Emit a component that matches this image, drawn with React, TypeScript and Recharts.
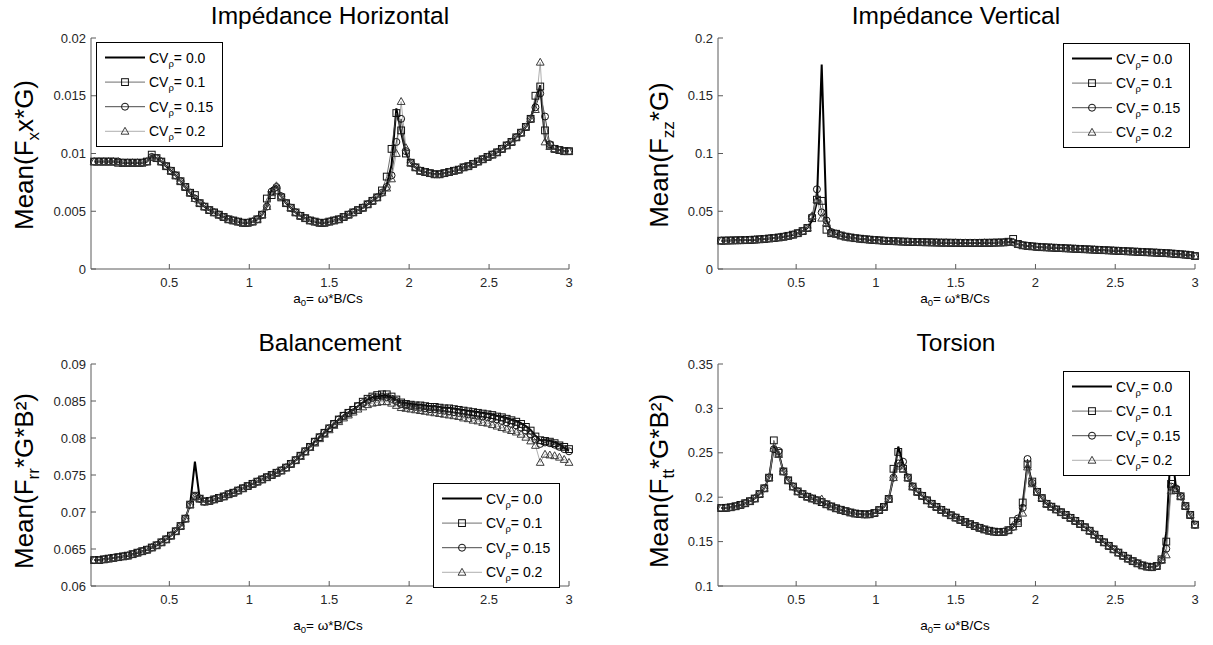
import React from 'react';
import { LineChart, Line, XAxis, YAxis, Legend } from 'recharts';

const FONT = '"Liberation Sans", Arial, Helvetica, sans-serif';
const AXIS_COLOR = '#5a5a5a';
const TEXT_COLOR = '#262626';

// a0 = omega*B/Cs
const A0 = [
  0.03, 0.06, 0.09, 0.12, 0.15, 0.18, 0.21, 0.24, 0.27, 0.3,
  0.33, 0.36, 0.39, 0.42, 0.45, 0.48, 0.51, 0.54, 0.57, 0.6,
  0.63, 0.66, 0.69, 0.72, 0.75, 0.78, 0.81, 0.84, 0.87, 0.9,
  0.93, 0.96, 0.99, 1.02, 1.05, 1.08, 1.11, 1.14, 1.17, 1.2,
  1.23, 1.26, 1.29, 1.32, 1.35, 1.38, 1.41, 1.44, 1.47, 1.5,
  1.53, 1.56, 1.59, 1.62, 1.65, 1.68, 1.71, 1.74, 1.77, 1.8,
  1.83, 1.86, 1.89, 1.92, 1.95, 1.98, 2.01, 2.04, 2.07, 2.1,
  2.13, 2.16, 2.19, 2.22, 2.25, 2.28, 2.31, 2.34, 2.37, 2.4,
  2.43, 2.46, 2.49, 2.52, 2.55, 2.58, 2.61, 2.64, 2.67, 2.7,
  2.73, 2.76, 2.79, 2.82, 2.85, 2.88, 2.91, 2.94, 2.97, 3,
];

// Impédance Horizontal
const H_CV00 = [
  0.0093, 0.0093, 0.0093, 0.0093, 0.0093, 0.0093, 0.0092, 0.0092, 0.0092, 0.0092,
  0.0092, 0.0093, 0.0098, 0.0096, 0.0093, 0.0089, 0.0085, 0.0081, 0.0076, 0.0071,
  0.0066, 0.0061, 0.0057, 0.0054, 0.0051, 0.0049, 0.0047, 0.0045, 0.0043, 0.0042,
  0.0041, 0.004, 0.004, 0.0041, 0.0043, 0.0047, 0.0054, 0.007, 0.0072, 0.0063,
  0.0057, 0.0053, 0.0049, 0.0046, 0.0044, 0.0042, 0.0041, 0.004, 0.004, 0.0041,
  0.0042, 0.0043, 0.0045, 0.0047, 0.0049, 0.0051, 0.0053, 0.0056, 0.0059, 0.0062,
  0.0066, 0.0073, 0.009, 0.0139, 0.0118, 0.01, 0.0092, 0.0088, 0.0085, 0.0084,
  0.0083, 0.0082, 0.0082, 0.0083, 0.0084, 0.0085, 0.0086, 0.0088, 0.0089, 0.0091,
  0.0093, 0.0095, 0.0097, 0.0099, 0.0101, 0.0104, 0.0107, 0.011, 0.0114, 0.0118,
  0.0123, 0.013, 0.0145, 0.0159, 0.0112, 0.0106, 0.0104, 0.0103, 0.0102, 0.0102,
];
const H_CV01 = [
  0.0093, 0.0093, 0.0093, 0.0093, 0.0093, 0.0092, 0.0092, 0.0092, 0.0092, 0.0092,
  0.0092, 0.0093, 0.0099, 0.0096, 0.0093, 0.0089, 0.0085, 0.0081, 0.0076, 0.0071,
  0.0066, 0.0064, 0.0057, 0.0054, 0.0051, 0.0049, 0.0047, 0.0045, 0.0043, 0.0042,
  0.0041, 0.004, 0.004, 0.0041, 0.0043, 0.0047, 0.0061, 0.0064, 0.0068, 0.0062,
  0.0057, 0.0053, 0.0049, 0.0046, 0.0044, 0.0042, 0.0041, 0.004, 0.004, 0.0041,
  0.0042, 0.0043, 0.0045, 0.0047, 0.0049, 0.0051, 0.0053, 0.0056, 0.0059, 0.0062,
  0.0068, 0.008, 0.0104, 0.0135, 0.012, 0.01, 0.0092, 0.0088, 0.0085, 0.0084,
  0.0083, 0.0082, 0.0082, 0.0083, 0.0084, 0.0085, 0.0086, 0.0088, 0.0089, 0.0091,
  0.0093, 0.0095, 0.0097, 0.0099, 0.0101, 0.0104, 0.0107, 0.011, 0.0114, 0.0118,
  0.0123, 0.013, 0.015, 0.0158, 0.012, 0.0107, 0.0104, 0.0103, 0.0102, 0.0102,
];
const H_CV015 = [
  0.0093, 0.0093, 0.0093, 0.0093, 0.0093, 0.0093, 0.0092, 0.0092, 0.0092, 0.0092,
  0.0092, 0.0093, 0.0097, 0.0096, 0.0093, 0.0089, 0.0085, 0.0081, 0.0076, 0.0071,
  0.0066, 0.0061, 0.0057, 0.0054, 0.0051, 0.0049, 0.0047, 0.0045, 0.0043, 0.0042,
  0.0041, 0.004, 0.004, 0.0041, 0.0043, 0.0047, 0.0054, 0.0067, 0.0071, 0.0063,
  0.0057, 0.0053, 0.0049, 0.0046, 0.0044, 0.0042, 0.0041, 0.004, 0.004, 0.0041,
  0.0042, 0.0043, 0.0045, 0.0047, 0.0049, 0.0051, 0.0053, 0.0056, 0.0059, 0.0062,
  0.0066, 0.0071, 0.0081, 0.011, 0.013, 0.0102, 0.0092, 0.0088, 0.0085, 0.0084,
  0.0083, 0.0082, 0.0082, 0.0083, 0.0084, 0.0085, 0.0086, 0.0088, 0.0089, 0.0091,
  0.0093, 0.0095, 0.0097, 0.0099, 0.0101, 0.0104, 0.0107, 0.011, 0.0114, 0.0118,
  0.0123, 0.013, 0.014, 0.0152, 0.0132, 0.0108, 0.0104, 0.0103, 0.0102, 0.0102,
];
const H_CV02 = [
  0.0093, 0.0093, 0.0093, 0.0093, 0.0093, 0.0093, 0.0092, 0.0092, 0.0092, 0.0092,
  0.0092, 0.0093, 0.0097, 0.0096, 0.0093, 0.0089, 0.0085, 0.0081, 0.0076, 0.0071,
  0.0066, 0.0061, 0.0057, 0.0054, 0.0051, 0.0049, 0.0047, 0.0045, 0.0043, 0.0042,
  0.0041, 0.004, 0.004, 0.0041, 0.0043, 0.0047, 0.0054, 0.0066, 0.0072, 0.0063,
  0.0057, 0.0053, 0.0049, 0.0046, 0.0044, 0.0042, 0.0041, 0.004, 0.004, 0.0041,
  0.0042, 0.0043, 0.0045, 0.0047, 0.0049, 0.0051, 0.0053, 0.0056, 0.0059, 0.0062,
  0.0066, 0.007, 0.0078, 0.01, 0.0145, 0.0105, 0.0092, 0.0088, 0.0085, 0.0084,
  0.0083, 0.0082, 0.0082, 0.0083, 0.0084, 0.0085, 0.0086, 0.0088, 0.0089, 0.0091,
  0.0093, 0.0095, 0.0097, 0.0099, 0.0101, 0.0104, 0.0107, 0.011, 0.0114, 0.0118,
  0.0123, 0.013, 0.0138, 0.0179, 0.011, 0.0106, 0.0104, 0.0103, 0.0102, 0.0102,
];

// Impédance Vertical
const V_CV00 = [
  0.0245, 0.0246, 0.0247, 0.0248, 0.0249, 0.025, 0.0252, 0.0254, 0.0257, 0.026,
  0.0264, 0.0268, 0.0273, 0.0279, 0.0287, 0.0297, 0.031, 0.0328, 0.0355, 0.042,
  0.058, 0.177, 0.042, 0.033, 0.0305, 0.029, 0.028, 0.0273, 0.0267, 0.0262,
  0.0258, 0.0254, 0.0251, 0.0248, 0.0245, 0.0243, 0.0241, 0.0239, 0.0237, 0.0236,
  0.0234, 0.0233, 0.0232, 0.0231, 0.023, 0.0229, 0.0228, 0.0228, 0.0227, 0.0227,
  0.0226, 0.0226, 0.0226, 0.0226, 0.0226, 0.0227, 0.0227, 0.0228, 0.0229, 0.023,
  0.0234, 0.0232, 0.0215, 0.0205, 0.02, 0.0196, 0.0192, 0.0189, 0.0187, 0.0185,
  0.0183, 0.0181, 0.0179, 0.0177, 0.0175, 0.0173, 0.0171, 0.0169, 0.0167, 0.0165,
  0.0163, 0.0161, 0.0159, 0.0157, 0.0155, 0.0153, 0.0151, 0.0149, 0.0147, 0.0145,
  0.0143, 0.0141, 0.0139, 0.0137, 0.0134, 0.0131, 0.0128, 0.0124, 0.012, 0.0112,
];
const V_CV01 = [
  0.0245, 0.0246, 0.0247, 0.0248, 0.0249, 0.025, 0.0252, 0.0254, 0.0257, 0.026,
  0.0264, 0.0268, 0.0273, 0.0279, 0.0287, 0.0297, 0.031, 0.0328, 0.0355, 0.044,
  0.06, 0.059, 0.034, 0.031, 0.0305, 0.029, 0.028, 0.0273, 0.0267, 0.0262,
  0.0258, 0.0254, 0.0251, 0.0248, 0.0245, 0.0243, 0.0241, 0.0239, 0.0237, 0.0236,
  0.0234, 0.0233, 0.0232, 0.0231, 0.023, 0.0229, 0.0228, 0.0228, 0.0227, 0.0227,
  0.0226, 0.0226, 0.0226, 0.0226, 0.0226, 0.0227, 0.0227, 0.0228, 0.0229, 0.023,
  0.0236, 0.026, 0.0217, 0.0205, 0.02, 0.0196, 0.0192, 0.0189, 0.0187, 0.0185,
  0.0183, 0.0181, 0.0179, 0.0177, 0.0175, 0.0173, 0.0171, 0.0169, 0.0167, 0.0165,
  0.0163, 0.0161, 0.0159, 0.0157, 0.0155, 0.0153, 0.0151, 0.0149, 0.0147, 0.0145,
  0.0143, 0.0141, 0.0139, 0.0137, 0.0134, 0.0131, 0.0128, 0.0124, 0.012, 0.0112,
];
const V_CV015 = [
  0.0245, 0.0246, 0.0247, 0.0248, 0.0249, 0.025, 0.0252, 0.0254, 0.0257, 0.026,
  0.0264, 0.0268, 0.0273, 0.0279, 0.0287, 0.0297, 0.031, 0.0328, 0.0355, 0.045,
  0.069, 0.049, 0.042, 0.032, 0.0305, 0.029, 0.028, 0.0273, 0.0267, 0.0262,
  0.0258, 0.0254, 0.0251, 0.0248, 0.0245, 0.0243, 0.0241, 0.0239, 0.0237, 0.0236,
  0.0234, 0.0233, 0.0232, 0.0231, 0.023, 0.0229, 0.0228, 0.0228, 0.0227, 0.0227,
  0.0226, 0.0226, 0.0226, 0.0226, 0.0226, 0.0227, 0.0227, 0.0228, 0.0229, 0.023,
  0.0233, 0.0231, 0.0214, 0.0205, 0.02, 0.0196, 0.0192, 0.0189, 0.0187, 0.0185,
  0.0183, 0.0181, 0.0179, 0.0177, 0.0175, 0.0173, 0.0171, 0.0169, 0.0167, 0.0165,
  0.0163, 0.0161, 0.0159, 0.0157, 0.0155, 0.0153, 0.0151, 0.0149, 0.0147, 0.0145,
  0.0143, 0.0141, 0.0139, 0.0137, 0.0134, 0.0131, 0.0128, 0.0124, 0.012, 0.0112,
];
const V_CV02 = [
  0.0245, 0.0246, 0.0247, 0.0248, 0.0249, 0.025, 0.0252, 0.0254, 0.0257, 0.026,
  0.0264, 0.0268, 0.0273, 0.0279, 0.0287, 0.0297, 0.031, 0.0328, 0.0355, 0.046,
  0.06, 0.044, 0.04, 0.032, 0.0306, 0.029, 0.028, 0.0273, 0.0267, 0.0262,
  0.0258, 0.0254, 0.0251, 0.0248, 0.0245, 0.0243, 0.0241, 0.0239, 0.0237, 0.0236,
  0.0234, 0.0233, 0.0232, 0.0231, 0.023, 0.0229, 0.0228, 0.0228, 0.0227, 0.0227,
  0.0226, 0.0226, 0.0226, 0.0226, 0.0226, 0.0227, 0.0227, 0.0228, 0.0229, 0.023,
  0.0233, 0.0232, 0.0215, 0.0205, 0.02, 0.0196, 0.0192, 0.0189, 0.0187, 0.0185,
  0.0183, 0.0181, 0.0179, 0.0177, 0.0175, 0.0173, 0.0171, 0.0169, 0.0167, 0.0165,
  0.0163, 0.0161, 0.0159, 0.0157, 0.0155, 0.0153, 0.0151, 0.0149, 0.0147, 0.0145,
  0.0143, 0.0141, 0.0139, 0.0137, 0.0134, 0.0131, 0.0128, 0.0124, 0.012, 0.0112,
];

// Balancement
const B_CV00 = [
  0.0635, 0.0635, 0.0636, 0.0637, 0.0638, 0.0639, 0.064, 0.0641, 0.0643, 0.0645,
  0.0647, 0.0649, 0.0652, 0.0655, 0.0659, 0.0663, 0.0668, 0.0674, 0.0681, 0.0691,
  0.071, 0.0768, 0.0718, 0.0714, 0.0715, 0.0717, 0.0719, 0.0721, 0.0724, 0.0726,
  0.0729, 0.0732, 0.0735, 0.0738, 0.0741, 0.0744, 0.0747, 0.075, 0.0753, 0.0756,
  0.076, 0.0765, 0.077, 0.0776, 0.0782, 0.0788, 0.0795, 0.0801, 0.0807, 0.0813,
  0.0819, 0.0825, 0.083, 0.0834, 0.0838, 0.0843, 0.0848, 0.0852, 0.0855, 0.0856,
  0.0857, 0.0857, 0.0855, 0.0852, 0.0848, 0.0847, 0.0846, 0.0845, 0.0845, 0.0844,
  0.0843, 0.0843, 0.0842, 0.0841, 0.0841, 0.084, 0.0839, 0.0838, 0.0837, 0.0836,
  0.0835, 0.0834, 0.0833, 0.0832, 0.083, 0.0829, 0.0827, 0.0825, 0.0823, 0.082,
  0.0816, 0.0811, 0.0803, 0.0797, 0.0797, 0.0796, 0.0794, 0.0791, 0.0787, 0.0783,
];
const B_CV01 = [
  0.0635, 0.0635, 0.0636, 0.0637, 0.0638, 0.0639, 0.064, 0.0641, 0.0643, 0.0645,
  0.0647, 0.0649, 0.0652, 0.0655, 0.0659, 0.0663, 0.0668, 0.0674, 0.0681, 0.0691,
  0.071, 0.0722, 0.0718, 0.0714, 0.0715, 0.0717, 0.0719, 0.0721, 0.0724, 0.0726,
  0.0729, 0.0732, 0.0735, 0.0738, 0.0741, 0.0744, 0.0747, 0.075, 0.0753, 0.0756,
  0.076, 0.0765, 0.077, 0.0776, 0.0782, 0.0788, 0.0795, 0.0801, 0.0807, 0.0813,
  0.0819, 0.0825, 0.083, 0.0834, 0.0838, 0.0843, 0.0849, 0.0853, 0.0856, 0.0858,
  0.0859, 0.0859, 0.0856, 0.0852, 0.0848, 0.0846, 0.0845, 0.0844, 0.0844, 0.0843,
  0.0842, 0.0842, 0.0841, 0.084, 0.084, 0.0839, 0.0838, 0.0837, 0.0836, 0.0835,
  0.0834, 0.0833, 0.0832, 0.0831, 0.0829, 0.0828, 0.0826, 0.0824, 0.0822, 0.0819,
  0.0815, 0.081, 0.0802, 0.0797, 0.0796, 0.0795, 0.0793, 0.079, 0.0788, 0.0785,
];
const B_CV015 = [
  0.0635, 0.0635, 0.0636, 0.0637, 0.0638, 0.0639, 0.064, 0.0641, 0.0643, 0.0645,
  0.0647, 0.0649, 0.0652, 0.0655, 0.0659, 0.0663, 0.0668, 0.0674, 0.0681, 0.0691,
  0.071, 0.0721, 0.0718, 0.0714, 0.0715, 0.0717, 0.0719, 0.0721, 0.0724, 0.0726,
  0.0729, 0.0732, 0.0735, 0.0738, 0.0741, 0.0744, 0.0747, 0.075, 0.0753, 0.0756,
  0.076, 0.0765, 0.077, 0.0776, 0.0782, 0.0788, 0.0795, 0.0801, 0.0807, 0.0813,
  0.0819, 0.0825, 0.083, 0.0834, 0.0838, 0.0843, 0.0847, 0.0851, 0.0854, 0.0855,
  0.0856, 0.0855, 0.0853, 0.085, 0.0846, 0.0844, 0.0843, 0.0842, 0.0841, 0.084,
  0.0839, 0.0839, 0.0838, 0.0837, 0.0836, 0.0835, 0.0834, 0.0833, 0.0832, 0.0831,
  0.083, 0.0829, 0.0828, 0.0826, 0.0825, 0.0823, 0.0821, 0.0819, 0.0817, 0.0814,
  0.081, 0.0805, 0.0798, 0.0792, 0.0794, 0.0793, 0.0791, 0.0788, 0.0785, 0.0782,
];
const B_CV02 = [
  0.0635, 0.0635, 0.0636, 0.0637, 0.0638, 0.0639, 0.064, 0.0641, 0.0643, 0.0645,
  0.0647, 0.0649, 0.0652, 0.0655, 0.0659, 0.0663, 0.0668, 0.0674, 0.0681, 0.0691,
  0.071, 0.072, 0.0718, 0.0714, 0.0715, 0.0717, 0.0719, 0.0721, 0.0724, 0.0726,
  0.0729, 0.0732, 0.0735, 0.0738, 0.0741, 0.0744, 0.0747, 0.075, 0.0753, 0.0756,
  0.076, 0.0765, 0.077, 0.0775, 0.0781, 0.0787, 0.0793, 0.0799, 0.0805, 0.0811,
  0.0817, 0.0822, 0.0827, 0.0831, 0.0835, 0.0839, 0.0842, 0.0845, 0.0847, 0.0848,
  0.0849, 0.0849, 0.0847, 0.0844, 0.0841, 0.084, 0.0839, 0.0838, 0.0837, 0.0836,
  0.0835, 0.0834, 0.0833, 0.0832, 0.0831, 0.083, 0.0829, 0.0827, 0.0826, 0.0824,
  0.0823, 0.0821, 0.082, 0.0818, 0.0816, 0.0814, 0.0812, 0.081, 0.0808, 0.0805,
  0.0801, 0.0796, 0.079, 0.0767, 0.0778, 0.0777, 0.0776, 0.0774, 0.0771, 0.0767,
];

// Torsion
const T_CV00 = [
  0.1878, 0.188, 0.1887, 0.1898, 0.1913, 0.1932, 0.1955, 0.1985, 0.2035, 0.21,
  0.222, 0.257, 0.249, 0.229, 0.219, 0.212, 0.2065, 0.2035, 0.2005, 0.1985,
  0.1965, 0.1945, 0.192, 0.1896, 0.1875, 0.1858, 0.1843, 0.1828, 0.1816, 0.181,
  0.1806, 0.1808, 0.1822, 0.1855, 0.189, 0.198, 0.222, 0.257, 0.238, 0.222,
  0.212, 0.206, 0.2015, 0.1965, 0.1925, 0.189, 0.1857, 0.1826, 0.1797, 0.177,
  0.1744, 0.172, 0.1697, 0.1675, 0.1655, 0.1637, 0.1622, 0.1612, 0.1607, 0.161,
  0.1628, 0.1665, 0.1745, 0.193, 0.236, 0.215, 0.206, 0.199, 0.1925, 0.1893,
  0.1862, 0.1831, 0.18, 0.1767, 0.1733, 0.1698, 0.1662, 0.1622, 0.1578, 0.153,
  0.1492, 0.1452, 0.1413, 0.1376, 0.134, 0.1308, 0.128, 0.1255, 0.1232, 0.1218,
  0.1212, 0.1225, 0.129, 0.16, 0.26, 0.212, 0.201, 0.19, 0.18, 0.169,
];
const T_CV01 = [
  0.1878, 0.188, 0.1887, 0.1898, 0.1913, 0.1932, 0.1955, 0.1985, 0.2035, 0.21,
  0.222, 0.264, 0.25, 0.229, 0.219, 0.212, 0.2065, 0.2035, 0.2005, 0.1985,
  0.1965, 0.1945, 0.192, 0.1896, 0.1875, 0.1858, 0.1843, 0.1828, 0.1816, 0.181,
  0.1806, 0.1808, 0.1822, 0.1855, 0.189, 0.198, 0.232, 0.251, 0.232, 0.222,
  0.212, 0.206, 0.2015, 0.1965, 0.1925, 0.189, 0.1857, 0.1826, 0.1797, 0.177,
  0.1744, 0.172, 0.1697, 0.1675, 0.1655, 0.1637, 0.1622, 0.1612, 0.1607, 0.161,
  0.1628, 0.173, 0.171, 0.194, 0.237, 0.2176, 0.206, 0.199, 0.1925, 0.1893,
  0.1862, 0.1831, 0.18, 0.1767, 0.1733, 0.1698, 0.1662, 0.1622, 0.1578, 0.153,
  0.1492, 0.1452, 0.1413, 0.1376, 0.134, 0.1308, 0.128, 0.1255, 0.1232, 0.1218,
  0.1212, 0.1225, 0.13, 0.15, 0.215, 0.208, 0.201, 0.19, 0.18, 0.169,
];
const T_CV015 = [
  0.1878, 0.188, 0.1887, 0.1898, 0.1913, 0.1932, 0.1955, 0.1985, 0.2035, 0.21,
  0.222, 0.254, 0.252, 0.229, 0.219, 0.212, 0.2065, 0.2035, 0.2005, 0.1985,
  0.1965, 0.1945, 0.192, 0.1896, 0.1875, 0.1858, 0.1843, 0.1828, 0.1816, 0.181,
  0.1806, 0.1808, 0.1822, 0.1855, 0.189, 0.198, 0.222, 0.238, 0.24, 0.222,
  0.212, 0.206, 0.2015, 0.1965, 0.1925, 0.189, 0.1857, 0.1826, 0.1797, 0.177,
  0.1744, 0.172, 0.1697, 0.1675, 0.1655, 0.1637, 0.1622, 0.1612, 0.1607, 0.161,
  0.1628, 0.1665, 0.176, 0.188, 0.243, 0.216, 0.206, 0.199, 0.1925, 0.1893,
  0.1862, 0.1831, 0.18, 0.1767, 0.1733, 0.1698, 0.1662, 0.1622, 0.1578, 0.153,
  0.1492, 0.1452, 0.1413, 0.1376, 0.134, 0.1308, 0.128, 0.1255, 0.1232, 0.1218,
  0.1212, 0.1225, 0.129, 0.142, 0.212, 0.21, 0.201, 0.19, 0.18, 0.169,
];
const T_CV02 = [
  0.1878, 0.188, 0.1887, 0.1898, 0.1913, 0.1932, 0.1955, 0.1985, 0.2035, 0.21,
  0.222, 0.255, 0.248, 0.229, 0.219, 0.212, 0.2065, 0.2035, 0.2005, 0.1985,
  0.1965, 0.198, 0.192, 0.1896, 0.1875, 0.1858, 0.1843, 0.1828, 0.1816, 0.181,
  0.1806, 0.1808, 0.1822, 0.1855, 0.189, 0.198, 0.222, 0.235, 0.232, 0.222,
  0.212, 0.206, 0.2015, 0.1965, 0.1925, 0.189, 0.1857, 0.1826, 0.1797, 0.177,
  0.1744, 0.172, 0.1697, 0.1675, 0.1655, 0.1637, 0.1622, 0.1612, 0.1607, 0.161,
  0.1628, 0.1665, 0.173, 0.182, 0.234, 0.215, 0.206, 0.199, 0.1925, 0.1893,
  0.1862, 0.1831, 0.18, 0.1767, 0.1733, 0.1698, 0.1662, 0.1622, 0.1578, 0.153,
  0.1492, 0.1452, 0.1413, 0.1376, 0.134, 0.1308, 0.128, 0.1255, 0.1232, 0.1218,
  0.1212, 0.1225, 0.129, 0.135, 0.207, 0.208, 0.201, 0.19, 0.18, 0.169,
];

const X_TICKS = [0.5, 1, 1.5, 2, 2.5, 3];
const H_TICKS = [0, 0.005, 0.01, 0.015, 0.02];
const V_TICKS = [0, 0.05, 0.1, 0.15, 0.2];
const B_TICKS = [0.06, 0.065, 0.07, 0.075, 0.08, 0.085, 0.09];
const T_TICKS = [0.1, 0.15, 0.2, 0.25, 0.3, 0.35];
const LEGEND_VALUES = ['0.0', '0.1', '0.15', '0.2'];

type Row = { x: number; s0: number; s1: number; s2: number; s3: number };
const buildRows = (a: number[], b: number[], c: number[], d: number[]): Row[] =>
  A0.map((x, i) => ({ x, s0: a[i], s1: b[i], s2: c[i], s3: d[i] }));

const H_ROWS = buildRows(H_CV00, H_CV01, H_CV015, H_CV02);
const V_ROWS = buildRows(V_CV00, V_CV01, V_CV015, V_CV02);
const B_ROWS = buildRows(B_CV00, B_CV01, B_CV015, B_CV02);
const T_ROWS = buildRows(T_CV00, T_CV01, T_CV015, T_CV02);

const SERIES = [
  { key: 's0', stroke: '#000000', width: 2, marker: 'none', mark: '#000000' },
  { key: 's1', stroke: '#4a4a4a', width: 0.8, marker: 'square', mark: '#111111' },
  { key: 's2', stroke: '#1a1a1a', width: 0.8, marker: 'circle', mark: '#111111' },
  { key: 's3', stroke: '#9a9a9a', width: 0.8, marker: 'triangle', mark: '#3c3c3c' },
];

function markerShape(shape: string, cx: number, cy: number, stroke: string, key?: string) {
  if (cx == null || cy == null) return <g key={key} />;
  if (shape === 'square')
    return <rect key={key} x={cx - 3.4} y={cy - 3.4} width={6.8} height={6.8} fill="none" stroke={stroke} strokeWidth={1} />;
  if (shape === 'circle')
    return <circle key={key} cx={cx} cy={cy} r={3.5} fill="none" stroke={stroke} strokeWidth={1} />;
  if (shape === 'triangle')
    return (
      <polygon
        key={key}
        points={`${cx},${cy - 4} ${cx - 3.9},${cy + 2.9} ${cx + 3.9},${cy + 2.9}`}
        fill="none"
        stroke={stroke}
        strokeWidth={1}
      />
    );
  return <g key={key} />;
}

const XTick = (props: any) => {
  const { x, y, payload } = props;
  return (
    <g>
      <line x1={x} y1={y} x2={x} y2={y - 5} stroke={AXIS_COLOR} strokeWidth={1} />
      <text x={x} y={y + 18} textAnchor="middle" fontSize={13} fontFamily={FONT} fill={TEXT_COLOR}>
        {String(payload.value)}
      </text>
    </g>
  );
};

const YTick = (props: any) => {
  const { x, y, payload } = props;
  return (
    <g>
      <line x1={x} y1={y} x2={x + 5} y2={y} stroke={AXIS_COLOR} strokeWidth={1} />
      <text x={x - 5} y={y + 4.5} textAnchor="end" fontSize={13} fontFamily={FONT} fill={TEXT_COLOR}>
        {String(payload.value)}
      </text>
    </g>
  );
};

function LegendBox() {
  return (
    <svg width={127} height={105} style={{ display: 'block', overflow: 'visible' }}>
      <rect x={0.5} y={0.5} width={126} height={104} fill="#ffffff" stroke="#000000" strokeWidth={1} />
      {SERIES.map((s, i) => {
        const cy = 15.5 + i * 24.6;
        return (
          <g key={s.key}>
            <line x1={9} x2={49} y1={cy} y2={cy} stroke={s.stroke} strokeWidth={s.width} />
            {markerShape(s.marker, 29, cy, s.mark)}
            <text x={53} y={cy + 5} fontSize={14} fontFamily={FONT} fill="#000000">
              CV
              <tspan fontSize={9.5} dy={4}>ρ</tspan>
              <tspan fontSize={14} dy={-4}>= {LEGEND_VALUES[i]}</tspan>
            </text>
          </g>
        );
      })}
    </svg>
  );
}

type PanelProps = {
  left: number;
  top: number;
  height: number;
  margin: { top: number; right: number; bottom: number; left: number };
  rows: Row[];
  yDomain: [number, number];
  yTicks: number[];
  legendPos: [number, number];
};

function Panel({ left, top, height, margin, rows, yDomain, yTicks, legendPos }: PanelProps) {
  return (
    <div style={{ position: 'absolute', left, top }}>
      <LineChart width={600} height={height} data={rows} margin={margin}>
        <XAxis
          dataKey="x"
          type="number"
          domain={[0.01, 3]}
          ticks={X_TICKS}
          interval={0}
          tick={<XTick />}
          tickLine={false}
          tickSize={0}
          tickMargin={0}
          height={30}
          stroke={AXIS_COLOR}
        />
        <YAxis
          type="number"
          domain={yDomain}
          ticks={yTicks}
          interval={0}
          tick={<YTick />}
          tickLine={false}
          tickSize={0}
          tickMargin={0}
          width={50}
          stroke={AXIS_COLOR}
        />
        {SERIES.map((s) => (
          <Line
            key={s.key}
            type="linear"
            dataKey={s.key}
            stroke={s.stroke}
            strokeWidth={s.width}
            dot={
              s.marker === 'none'
                ? false
                : (p: any) => markerShape(s.marker, p.cx, p.cy, s.mark, `${s.key}-${p.index}`)
            }
            activeDot={false}
            isAnimationActive={false}
          />
        ))}
        <Legend
          layout="vertical"
          align="center"
          verticalAlign="middle"
          content={() => <LegendBox />}
          wrapperStyle={{ left: legendPos[0], top: legendPos[1], width: 127, height: 105 }}
        />
      </LineChart>
    </div>
  );
}

function YLabel({ x, y, sub, tail }: { x: number; y: number; sub: string; tail: string }) {
  return (
    <text
      x={x}
      y={y}
      transform={`rotate(-90 ${x} ${y})`}
      textAnchor="middle"
      fontSize={26}
      fontFamily={FONT}
      fill="#000000"
    >
      Mean(F
      <tspan fontSize={17} dy={6}>{sub}</tspan>
      <tspan fontSize={26} dy={-6}>{tail}</tspan>
    </text>
  );
}

function XLabel({ x, y }: { x: number; y: number }) {
  return (
    <text x={x} y={y} textAnchor="middle" fontSize={13.5} fontFamily={FONT} fill="#000000">
      a
      <tspan fontSize={9.5} dy={3}>0</tspan>
      <tspan fontSize={13.5} dy={-3}>= ω*B/Cs</tspan>
    </text>
  );
}

function Title({ x, y, text }: { x: number; y: number; text: string }) {
  return (
    <text x={x} y={y} textAnchor="middle" fontSize={24.5} fontFamily={FONT} fill="#000000">
      {text}
    </text>
  );
}

export default function App() {
  return (
    <div
      style={{
        position: 'absolute',
        left: 0,
        top: 0,
        width: 1213,
        height: 645,
        background: '#ffffff',
        overflow: 'hidden',
        fontFamily: FONT,
      }}
    >
      <Panel
        left={0}
        top={0}
        height={320}
        margin={{ top: 38, right: 31, bottom: 21, left: 41 }}
        rows={H_ROWS}
        yDomain={[0, 0.02]}
        yTicks={H_TICKS}
        legendPos={[96, 42]}
      />
      <Panel
        left={600}
        top={0}
        height={320}
        margin={{ top: 38, right: 5, bottom: 21, left: 68 }}
        rows={V_ROWS}
        yDomain={[0, 0.2]}
        yTicks={V_TICKS}
        legendPos={[463, 43]}
      />
      <Panel
        left={0}
        top={320}
        height={325}
        margin={{ top: 44, right: 31, bottom: 29, left: 41 }}
        rows={B_ROWS}
        yDomain={[0.06, 0.09]}
        yTicks={B_TICKS}
        legendPos={[433, 163]}
      />
      <Panel
        left={600}
        top={320}
        height={325}
        margin={{ top: 44, right: 5, bottom: 29, left: 68 }}
        rows={T_ROWS}
        yDomain={[0.1, 0.35]}
        yTicks={T_TICKS}
        legendPos={[463, 51]}
      />
      <svg
        width={1213}
        height={645}
        style={{ position: 'absolute', left: 0, top: 0, pointerEvents: 'none' }}
      >
        <Title x={330} y={24} text="Impédance Horizontal" />
        <Title x={956} y={24} text="Impédance Vertical" />
        <Title x={330} y={351} text="Balancement" />
        <Title x={956} y={351} text="Torsion" />
        <YLabel x={33} y={155} sub="x" tail="x*G)" />
        <YLabel x={668} y={155} sub="zz" tail="*G)" />
        <YLabel x={33} y={481} sub="rr" tail="*G*B²)" />
        <YLabel x={668} y={481} sub="tt" tail="*G*B²)" />
        <XLabel x={328} y={303} />
        <XLabel x={955} y={303} />
        <XLabel x={328} y={630} />
        <XLabel x={955} y={630} />
      </svg>
    </div>
  );
}
